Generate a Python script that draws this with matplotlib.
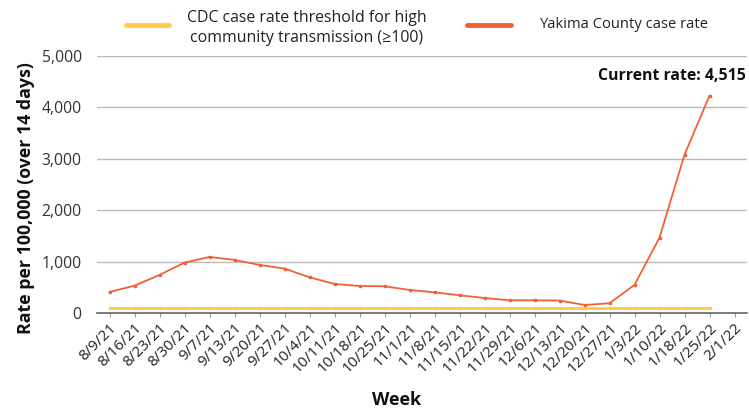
import matplotlib
matplotlib.use("Agg")
import matplotlib.pyplot as plt
from matplotlib.ticker import FuncFormatter

weeks = ["8/9/21", "8/16/21", "8/23/21", "8/30/21", "9/7/21", "9/13/21", "9/20/21",
         "9/27/21", "10/4/21", "10/11/21", "10/18/21", "10/25/21", "11/1/21", "11/8/21",
         "11/15/21", "11/22/21", "11/29/21", "12/6/21", "12/13/21", "12/20/21",
         "12/27/21", "1/3/22", "1/10/22", "1/18/22", "1/25/22", "2/1/22"]
yakima = [414, 537, 745, 985, 1095, 1037, 940, 868, 700, 570, 531, 525, 453, 408,
          350, 298, 253, 253, 248, 161, 195, 551, 1471, 3080, 4228]
threshold = [100] * 25
y_ticks = [0, 1000, 2000, 3000, 4000, 5000]

plt.rcParams['font.family'] = ['Open Sans', 'DejaVu Sans']

W, H = 749, 412
fig = plt.figure(figsize=(W / 100, H / 100), dpi=100)
ax = fig.add_axes([97 / W, (H - 313.3) / H, 650 / W, 257.3 / H])

orange = '#F26135'
yellow = '#FFCB45'

x_all = list(range(len(weeks)))
ax.plot(x_all[:len(threshold)], threshold, color=yellow, lw=2, marker='s', ms=2,
        zorder=3)
ax.plot(x_all[:len(yakima)], yakima, color=orange, lw=1.3, marker='s', ms=2,
        zorder=4)

ax.set_xlim(-0.5, len(weeks) - 0.5)
ax.set_ylim(0, 5000)
ax.set_yticks(y_ticks)
ax.yaxis.set_major_formatter(FuncFormatter(lambda v, p: f"{int(v):,}"))
ax.set_xticks(x_all)
ax.set_xticklabels(weeks, rotation=45, ha='right', rotation_mode='anchor')
ax.tick_params(axis='x', length=3, color='#999999', labelsize=11, pad=2,
               labelcolor='#222222')
ax.tick_params(axis='y', length=0, labelsize=11.3, pad=11, labelcolor='#333333')

ax.grid(axis='y', color='#bbbbbb', lw=1)
ax.set_axisbelow(True)
for s in ['top', 'right', 'left']:
    ax.spines[s].set_visible(False)
ax.spines['bottom'].set_color('#666666')
ax.spines['bottom'].set_linewidth(1.2)

fig.text(26 / W, 1 - 198.5 / H, 'Rate per 100,000 (over 14 days)', fontsize=12.8,
         fontweight='bold', rotation=90, ha='center', va='center', color='#111111')
fig.text(397 / W, 1 - 405 / H, 'Week', fontsize=13, fontweight='bold',
         ha='center', va='baseline', color='#111111')

fig.text(746 / W, 1 - 76 / H, 'Current rate: 4,515', fontsize=11.4, fontweight='bold',
         ha='right', va='center', color='#111111')

# legend
fig.add_artist(plt.Line2D([126 / W, 169 / W], [1 - 25 / H] * 2, color=yellow, lw=3.5,
                          solid_capstyle='round'))
fig.text(306.5 / W, 1 - 28 / H, 'CDC case rate threshold for high\ncommunity transmission (≥100)',
         fontsize=11.4, ha='center', va='center', color='#222222', linespacing=1.3)
fig.add_artist(plt.Line2D([467 / W, 511 / W], [1 - 25 / H] * 2, color=orange, lw=3.5,
                          solid_capstyle='round'))
fig.text(539 / W, 1 - 25 / H, 'Yakima County case rate', fontsize=10.6, ha='left',
         va='center', color='#222222')

fig.savefig('out.png', dpi=100)
